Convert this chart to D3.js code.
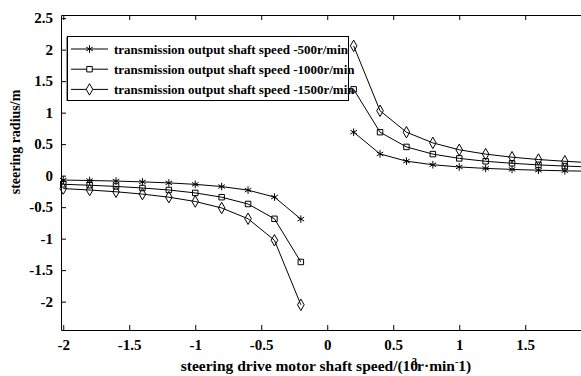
<!DOCTYPE html>
<html>
<head>
<meta charset="utf-8">
<script src="https://cdn.jsdelivr.net/npm/d3@7/dist/d3.min.js"></script>
<style>
  body { margin: 0; background: #fff; }
  text { font-family: "Liberation Serif", "Times New Roman", serif; font-weight: bold; fill: #000; }
  .tick text { font-size: 15px; }
</style>
</head>
<body>
<div id="chart"></div>
<script>
// ------ Data --------------------------------------//
var speedLeft  = [-2, -1.8, -1.6, -1.4, -1.2, -1, -0.8, -0.6, -0.4, -0.2];
var speedRight = [0.2, 0.4, 0.6, 0.8, 1, 1.2, 1.4, 1.6, 1.8, 2];

var r500Left   = [-0.07, -0.077, -0.086, -0.099, -0.115, -0.138, -0.173, -0.23, -0.34, -0.69];
var r500Right  = [0.69, 0.345, 0.23, 0.173, 0.138, 0.115, 0.099, 0.086, 0.077, 0.069];
var r1000Left  = [-0.137, -0.152, -0.171, -0.196, -0.228, -0.274, -0.342, -0.45, -0.685, -1.37];
var r1000Right = [1.37, 0.69, 0.456, 0.342, 0.274, 0.228, 0.196, 0.171, 0.152, 0.137];
var r1500Left  = [-0.205, -0.228, -0.256, -0.293, -0.342, -0.41, -0.513, -0.684, -1.025, -2.05];
var r1500Right = [2.06, 1.03, 0.69, 0.52, 0.41, 0.342, 0.293, 0.256, 0.228, 0.205];

var seriesNames = ["transmission output shaft speed -500r/min",
                   "transmission output shaft speed -1000r/min",
                   "transmission output shaft speed -1500r/min"];
var xTicks = [-2, -1.5, -1, -0.5, 0, 0.5, 1, 1.5];
var yTicks = [-2, -1.5, -1, -0.5, 0, 0.5, 1, 1.5, 2, 2.5];

var width = 581, height = 376;

// ------ SVG ---------------//
var svg = d3.select("#chart").append("svg")
    .attr("width", width)
    .attr("height", height);

svg.append("rect").attr("width", width).attr("height", height).attr("fill", "#fff");

var plot = {left: 61, top: 15, bottom: 330};

// ------ Scales ---------------//
var x = d3.scaleLinear().domain([-2.017, 2.1]).range([plot.left, plot.left + 4.117 * 132]);
var y = d3.scaleLinear().domain([-2.45, 2.55]).range([plot.bottom, plot.top]);

// ------ Axes ---------------//
var fmt = function(d) { return d3.format("")(d).replace("−", "-"); };

svg.append("g")
    .attr("transform", `translate(0,${plot.bottom})`)
    .call(d3.axisBottom(x).tickValues(xTicks).tickSizeInner(-5).tickSizeOuter(0).tickPadding(9).tickFormat(fmt))
    .call(g => g.select(".domain").attr("stroke", "#000"));

svg.append("g")
    .attr("transform", `translate(0,${plot.top})`)
    .call(d3.axisTop(x).tickValues(xTicks).tickSizeInner(-5).tickSizeOuter(0).tickFormat(""))
    .call(g => g.select(".domain").attr("stroke", "#000"));

svg.append("g")
    .attr("transform", `translate(${plot.left},0)`)
    .call(d3.axisLeft(y).tickValues(yTicks).tickSizeInner(-5).tickSizeOuter(0).tickPadding(8).tickFormat(fmt));

// ------ Lines ---------------//
var symbols = [d3.symbolAsterisk, d3.symbolSquare, d3.symbolDiamond];
var symSize = [40, 30, 38];

var series = [
  [speedLeft.map((s, i) => [s, r500Left[i]]),  speedRight.map((s, i) => [s, r500Right[i]])],
  [speedLeft.map((s, i) => [s, r1000Left[i]]), speedRight.map((s, i) => [s, r1000Right[i]])],
  [speedLeft.map((s, i) => [s, r1500Left[i]]), speedRight.map((s, i) => [s, r1500Right[i]])]
];

var line = d3.line().x(d => x(d[0])).y(d => y(d[1]));

series.forEach(function(parts, k) {
  parts.forEach(function(pts) {
    svg.append("path")
        .datum(pts)
        .attr("d", line)
        .attr("fill", "none")
        .attr("stroke", "#000")
        .attr("stroke-width", 1);
    svg.selectAll(null)
        .data(pts)
        .enter().append("path")
        .attr("transform", d => `translate(${x(d[0])},${y(d[1])})`)
        .attr("d", d3.symbol().type(symbols[k]).size(symSize[k]))
        .attr("fill", "none")
        .attr("stroke", "#000")
        .attr("stroke-width", 1);
  });
});

// ------ Legend ---------------//
{
  var legend = svg.append("g");
  legend.append("rect")
      .attr("x", 67.5).attr("y", 36.5)
      .attr("width", 281).attr("height", 64)
      .attr("fill", "#fff")
      .attr("stroke", "#000");
  legend.append("line")
      .attr("x1", 66.5).attr("x2", 66.5).attr("y1", 37).attr("y2", 101)
      .attr("stroke", "#999");
  seriesNames.forEach(function(name, k) {
    var ly = 49 + k * 20.2;
    legend.append("line")
        .attr("x1", 71).attr("x2", 108).attr("y1", ly).attr("y2", ly)
        .attr("stroke", "#000");
    legend.append("path")
        .attr("transform", `translate(89.5,${ly})`)
        .attr("d", d3.symbol().type(symbols[k]).size(symSize[k]))
        .attr("fill", "#fff")
        .attr("stroke", "#000");
    legend.append("text")
        .attr("x", 114).attr("y", ly + 4.5)
        .attr("font-size", 13)
        .text(name);
  });
}

// ------ Axis titles ---------------//
svg.append("text")
    .attr("transform", "translate(20,142) rotate(-90)")
    .attr("text-anchor", "middle")
    .attr("font-size", 14)
    .text("steering radius/m");

var xt = svg.append("text")
    .attr("x", 326).attr("y", 371)
    .attr("text-anchor", "middle")
    .attr("font-size", 15.5);
xt.append("tspan").text("steering drive motor shaft speed/(10");
xt.append("tspan").attr("dx", -6).attr("dy", -6).attr("font-size", 10).text("3");
xt.append("tspan").attr("dy", 6).text("r\u00b7min");
xt.append("tspan").attr("dy", -6).attr("font-size", 10).text("-");
xt.append("tspan").attr("dy", 6).text("1)");
</script>
</body>
</html>
